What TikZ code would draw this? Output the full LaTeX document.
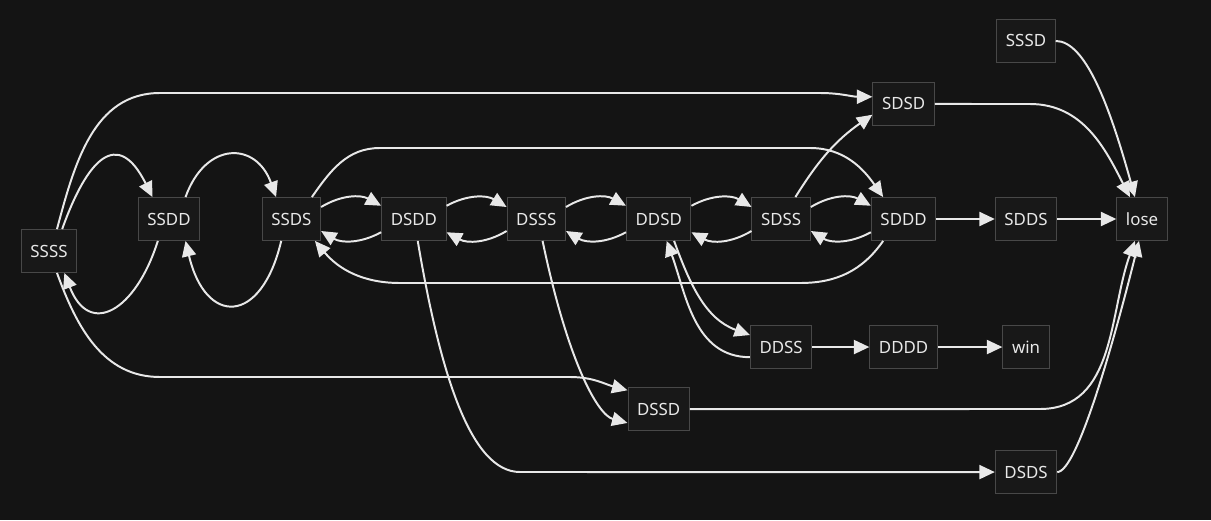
\documentclass[tikz,border=0pt]{standalone}
\usepackage{fontspec}
\setmainfont{Noto Sans}
\usepackage{tikz}
\tikzset{font={\fontsize{12pt}{14}\selectfont}}
\usetikzlibrary{arrows.meta,positioning}
\usepackage{xcolor}
\definecolor{bg}{RGB}{20,20,20}
\definecolor{boxfill}{RGB}{24,24,24}
\definecolor{boxline}{RGB}{72,72,72}
\definecolor{wire}{RGB}{232,232,232}

\begin{document}
\begin{tikzpicture}[x=0.025cm,y=0.025cm,->,>={Triangle[length=11pt,width=10pt]},
                    line width=1.4pt,color=wire,node distance=3.06cm,
                    main node/.style={rectangle,draw=boxline,line width=0.7pt,fill=boxfill,text=wire,minimum height=30.5pt,inner xsep=6.5pt}]

  \path[use as bounding box,fill=bg,-] (0,0) rectangle (1211,-520);

  \node[main node] (ssss) at (49,-251) {SSSS};
  \node[main node] (ssdd) at (169,-219) {SSDD};
  \node[main node] (ssds) [right of=ssdd] {SSDS};
  \node[main node] (dsdd) [right of=ssds] {DSDD};
  \node[main node] (dsss) [right of=dsdd] {DSSS};
  \node[main node] (ddsd) [right of=dsss] {DDSD};
  \node[main node] (sdss) [right of=ddsd] {SDSS};
  \node[main node] (sddd) [right of=sdss] {SDDD};
  \node[main node] (sdds) [right of=sddd] {SDDS};
  \node[main node] (lose) [right of=sdds, node distance=2.9cm] {lose};
  \node[main node] (sdsd) [above of=sddd, node distance=2.875cm] {SDSD};
  \node[main node] (sssd) [above of=sdds, node distance=4.45cm] {SSSD};
  \node[main node] (ddss) [below of=sdss, node distance=3.2cm] {DDSS};
  \node[main node] (dddd) [right of=ddss] {DDDD};
  \node[main node] (win) [right of=dddd] {win};
  \node[main node] (dssd) [below of=ddsd, node distance=4.75cm] {DSSD};
  \node[main node] (dsds) [below of=sdds, node distance=6.325cm] {DSDS};

  \path
    (ssds.22) edge [bend left=30] (dsdd.158)
    (dsdd.202) edge [bend left=30] (ssds.338)
    (dsdd.22) edge [bend left=30] (dsss.158)
    (dsss.202) edge [bend left=30] (dsdd.338)
    (dsss.22) edge [bend left=30] (ddsd.158)
    (ddsd.202) edge [bend left=30] (dsss.338)
    (ddsd.22) edge [bend left=30] (sdss.158)
    (sdss.202) edge [bend left=30] (ddsd.338)
    (sdss.22) edge [bend left=30] (sddd.158)
    (sddd.202) edge [bend left=30] (sdss.338)
    (sddd) edge (sdds)
    (sdds) edge (lose)
    (ddss) edge (dddd)
    (dddd) edge (win);

  % around the start
  \draw (ssss.70) to[out=75,in=180] (160,-93) -- (820,-93) to[out=0,in=180] (sdsd.167);
  \draw (ssss.59) .. controls +(25,70) and +(-35,70) .. (ssdd.127);
  \draw (ssdd.243) .. controls +(-22,-70) and +(25,-65) .. (ssss.305);
  \draw (ssdd.53) .. controls +(20,56) and +(-20,56) .. (ssds.125);
  \draw (ssds.245) .. controls +(-20,-85) and +(20,-85) .. (ssdd.307);
  \draw (ssss.290) to[out=-70,in=180] (160,-377) -- (570,-377) to[out=0,in=165] (dssd.149);

  % long loops over the middle row
  \draw (ssds.47) to[out=55,in=180] (380,-148) -- (810,-148) to[out=0,in=125] (sddd.133);
  \draw (sddd.227) to[out=235,in=0] (800,-283) -- (400,-283) to[out=180,in=-50] (ssds.317);
  \draw (sdss.57) to[out=58,in=215] (sdsd.199);

  % down to DDSS, DSSD, DSDS
  \draw (ddsd.305) to[out=-70,in=160] (ddss.159);
  \draw (ddss.198) to[out=180,in=-70] (ddsd.290);
  \draw (dsss.286) .. controls +(25,-120) and +(-30,8) .. (dssd.204);
  \draw (dsdd.280) .. controls +(22,-130) and +(-50,0) .. (520,-472) -- (dsds.west);

  % into lose
  \draw (sdsd.east) -- (1030,-104) to[out=0,in=117] (lose.119);
  \draw (sssd.east) .. controls +(30,0) and +(-25,90) .. (lose.108);
  \draw (dssd.east) -- (1040,-409) to[out=0,in=250] (lose.252);
  \draw (dsds.east) .. controls +(20,0) and +(-25,-100) .. (lose.262);
\end{tikzpicture}
\end{document}
